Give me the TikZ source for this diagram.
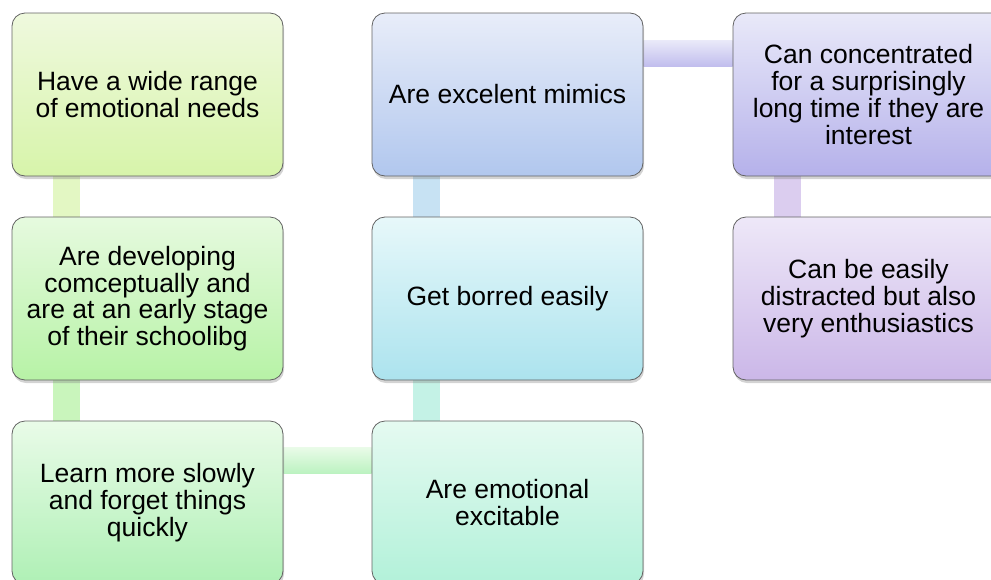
\documentclass[tikz,border=0pt]{standalone}
\usepackage{fontspec}
\setmainfont{Liberation Sans}
\usetikzlibrary{positioning,shadows,backgrounds}
\usepackage{xcolor}
\definecolor{edge}{HTML}{626262}
\definecolor{aTop}{HTML}{EFF9DE}\definecolor{aBot}{HTML}{D7F4AA}
\definecolor{bTop}{HTML}{E6FADF}\definecolor{bBot}{HTML}{B7F2A6}
\definecolor{cTop}{HTML}{E9FBE8}\definecolor{cBot}{HTML}{AFF0B5}
\definecolor{dTop}{HTML}{E8EDF9}\definecolor{dBot}{HTML}{B1C7EE}
\definecolor{eTop}{HTML}{E7F8FA}\definecolor{eBot}{HTML}{ACE3EE}
\definecolor{fTop}{HTML}{E5FAF1}\definecolor{fBot}{HTML}{B2F1D9}
\definecolor{gTop}{HTML}{E9E9F9}\definecolor{gBot}{HTML}{B5B1EA}
\definecolor{hTop}{HTML}{EEE8F8}\definecolor{hBot}{HTML}{CBB7E8}

\begin{document}
\begin{tikzpicture}[x=1pt,y=-1pt]
	\useasboundingbox (0,0) rectangle (991,579);
	\tikzstyle{every node}=[rectangle, rounded corners=13pt, draw=edge, line width=0.8pt, minimum width=271pt, minimum height=163pt, inner sep=0pt, align=center, font=\fontsize{26.5}{26.7}\selectfont, drop shadow={opacity=0.35, shadow xshift=1pt, shadow yshift=-3pt}]
	\draw (147.5,94.5) node (n1) [top color=aTop, bottom color=aBot] {Have a wide range\\of emotional needs};
	\draw (147.5,298.5) node (n2) [top color=bTop, bottom color=bBot] {Are developing\\comceptually and\\are at an early stage\\of their schoolibg};
	\draw (147.5,502.5) node (n3) [top color=cTop, bottom color=cBot] {Learn more slowly\\and forget things\\quickly};
	\draw (507.5,94.5) node (n4) [top color=dTop, bottom color=dBot] {Are excelent mimics};
	\draw (507.5,298.5) node (n5) [top color=eTop, bottom color=eBot] {Get borred easily};
	\draw (507.5,502.5) node (n6) [top color=fTop, bottom color=fBot] {Are emotional\\excitable};
	\draw (868.5,94.5) node (n7) [top color=gTop, bottom color=gBot] {Can concentrated\\for a surprisingly\\long time if they are\\interest};
	\draw (868.5,298.5) node (n8) [top color=hTop, bottom color=hBot] {Can be easily\\distracted but also\\very enthusiastics};
	\begin{scope}[on background layer]
		\fill [fill=aBot!70!white] ([xshift=41pt]n1.south west) rectangle ([xshift=68pt]n2.north west);
		\fill [fill=bBot!75!white] ([xshift=41pt]n2.south west) rectangle ([xshift=68pt]n3.north west);
		\shade [top color=cTop, bottom color=cBot!85!white] ([yshift=-27pt]n3.north east) rectangle ([yshift=-53pt]n6.north west);
		\fill [fill=fBot!80!eBot!75!white] ([xshift=41pt]n6.north west) rectangle ([xshift=68pt]n5.south west);
		\fill [fill=eBot!50!dBot!70!white] ([xshift=41pt]n5.north west) rectangle ([xshift=68pt]n4.south west);
		\shade [top color=gTop, bottom color=gBot!85!white] ([yshift=-28pt]n4.north east) rectangle ([yshift=-54pt]n7.north west);
		\fill [fill=hBot!70!white] ([xshift=41pt]n7.south west) rectangle ([xshift=68pt]n8.north west);
	\end{scope}
\end{tikzpicture}
\end{document}
